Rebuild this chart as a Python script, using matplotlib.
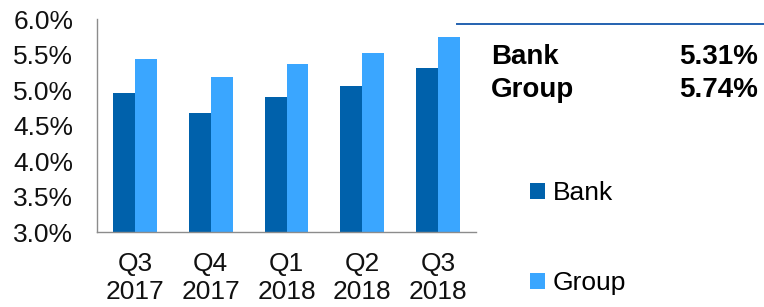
import matplotlib
matplotlib.use("Agg")
import matplotlib.pyplot as plt
import numpy as np

categories = ["Q3\n2017", "Q4\n2017", "Q1\n2018", "Q2\n2018", "Q3\n2018"]
bank = [4.96, 4.68, 4.90, 5.06, 5.31]
group = [5.44, 5.19, 5.36, 5.52, 5.74]
yticks = [3.0, 3.5, 4.0, 4.5, 5.0, 5.5, 6.0]
summary_labels = ["Bank", "Group"]
summary_values = ["5.31%", "5.74%"]

bank_color = "#0061AB"
group_color = "#3AA6FF"

plt.rcParams["font.family"] = ["Liberation Sans", "DejaVu Sans"]

fig = plt.figure(figsize=(7.64, 3.07), dpi=100)
ax = fig.add_axes([0.127, 0.244, 0.496, 0.694])

x = np.arange(len(categories))
w = 0.29
b1 = ax.bar(x - w / 2, np.array(bank) - 3.0, w, bottom=3.0, color=bank_color, label="Bank")
b2 = ax.bar(x + w / 2, np.array(group) - 3.0, w, bottom=3.0, color=group_color, label="Group")

ax.set_xlim(-0.5, len(categories) - 0.5)
ax.set_ylim(3.0, 6.0)
ax.set_yticks(yticks)
ax.set_yticklabels([f"{t:.1f}%" for t in yticks], fontsize=19, color="#111111")
ax.set_xticks(x)
ax.set_xticklabels(categories, fontsize=19, color="#111111", linespacing=1.25)
ax.tick_params(axis="x", length=0, pad=14)
ax.tick_params(axis="y", length=0, pad=17)
for s in ["top", "right"]:
    ax.spines[s].set_visible(False)
for s in ["left", "bottom"]:
    ax.spines[s].set_color("#8C8C8C")
    ax.spines[s].set_linewidth(1.0)

# summary panel
fig.add_artist(plt.Line2D([457 / 764, 1.0], [1 - 24 / 307, 1 - 24 / 307],
                          color="#2462B0", lw=1.4, transform=fig.transFigure))
for i, (lab, val) in enumerate(zip(summary_labels, summary_values)):
    yy = 1 - (57 + 33 * i) / 307
    fig.text(491 / 764, yy, lab, fontsize=20, fontweight="bold", va="center", ha="left")
    fig.text(758 / 764, yy, val, fontsize=20, fontweight="bold", va="center", ha="right")

leg = fig.legend(handles=[b1, b2], labels=["Bank", "Group"], loc="center left",
                 bbox_to_anchor=(530 / 764, 1 - 238 / 307), frameon=False,
                 fontsize=19, handlelength=0.55, handleheight=0.55,
                 handletextpad=0.3, labelspacing=2.5, borderpad=0, borderaxespad=0)

fig.savefig("out.png", dpi=100)
